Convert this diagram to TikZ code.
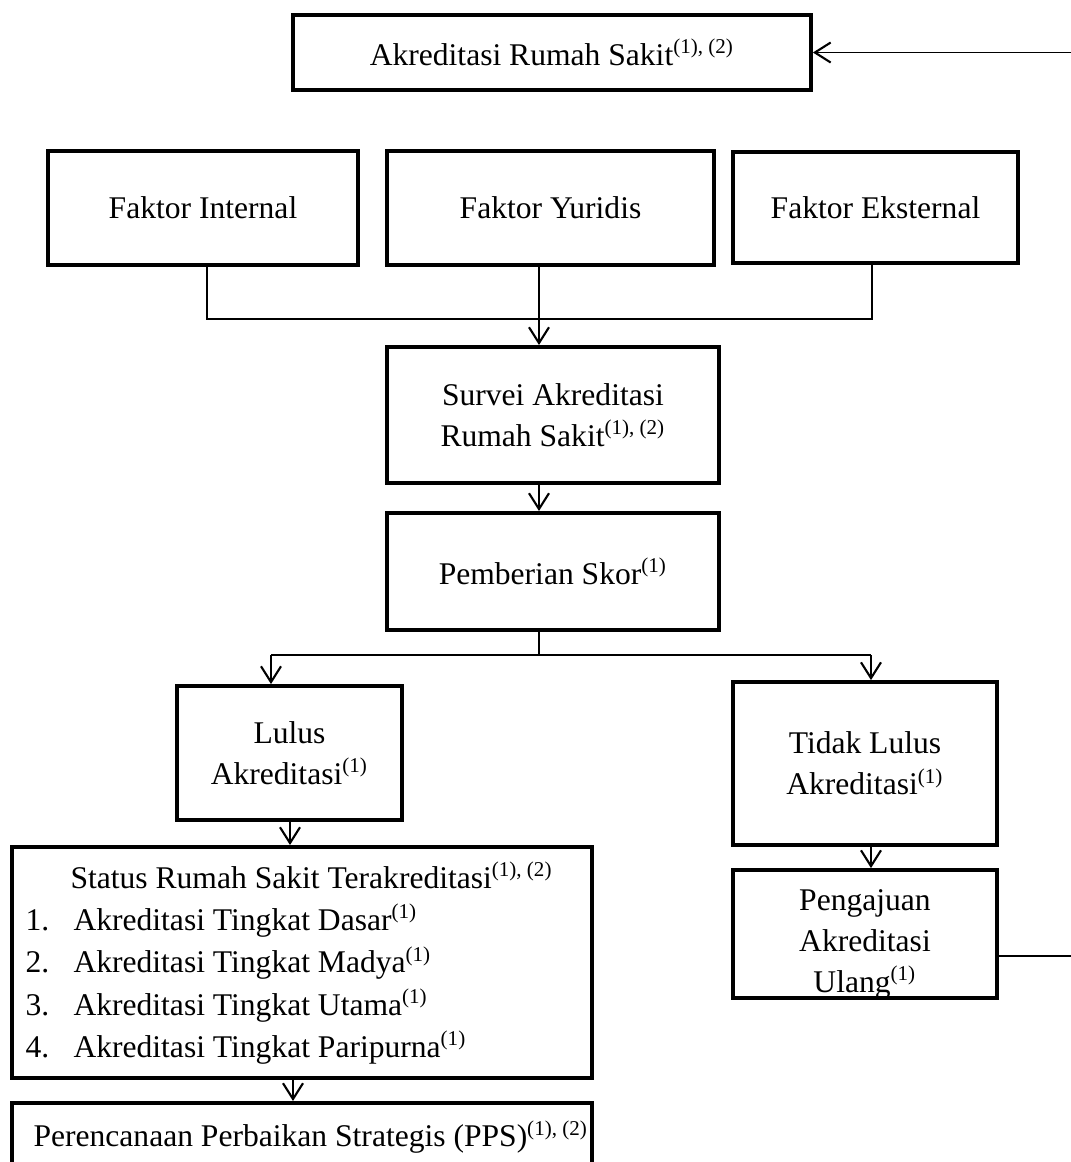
\documentclass[tikz,border=0pt]{standalone}
\usepackage{fontspec}
\setmainfont{Liberation Serif}
\usetikzlibrary{arrows.meta}
\begin{document}
\begin{tikzpicture}[x=0.38pt,y=-0.38pt,
  box/.style={draw,line width=1.5pt,rectangle,inner sep=0pt,align=center,font=\fontsize{12}{15.6}\selectfont},
  conn/.style={line width=0.5pt},
  arr/.style={conn,-{Straight Barb[length=6pt,width=7.6pt,line width=0.8pt]}},
  lbl/.style={inner sep=0pt,font=\fontsize{12}{15.6}\selectfont}]
\useasboundingbox (0,0) rectangle (1071,1162);
\clip (0,0) rectangle (1071,1162);

% boxes
\node[box,minimum width=196.8pt,minimum height=28.5pt] (top) at (552,52.5) {Akreditasi Rumah Sakit\textsuperscript{(1), (2)}};
\node[box,minimum width=117.8pt,minimum height=43.3pt] (int) at (203,208) {Faktor Internal};
\node[box,minimum width=124.3pt,minimum height=43.3pt] (yur) at (550.5,208) {Faktor Yuridis};
\node[box,minimum width=108.3pt,minimum height=42.2pt] (eks) at (875.5,207.5) {Faktor Eksternal};
\node[box,minimum width=126.2pt,minimum height=51.7pt] (surv) at (553,415) {Survei Akreditasi\\Rumah Sakit\textsuperscript{(1), (2)}};
\node[box,minimum width=126.2pt,minimum height=44.5pt] (pem) at (553,571.5) {Pemberian Skor\textsuperscript{(1)}};
\node[box,minimum width=85.5pt,minimum height=50.9pt] (lul) at (289.5,753) {Lulus\\Akreditasi\textsuperscript{(1)}};
\node[box,minimum width=100.3pt,minimum height=61.9pt] (tid) at (865,763.5) {Tidak Lulus\\Akreditasi\textsuperscript{(1)}};

\begin{scope}
  \clip (733,870) rectangle (997,996);
  \node[lbl,align=center] (pengt) at (865,944) {Pengajuan\\Akreditasi\\Ulang\textsuperscript{(1)}};
\end{scope}
\node[box,minimum width=100.3pt,minimum height=48.6pt] (peng) at (865,934) {};

\node[box,minimum width=220.4pt,minimum height=87.8pt] (stat) at (302,962.5) {};
\node[lbl,anchor=base west] (st0) at (70,888) {Status Rumah Sakit Terakreditasi\textsuperscript{(1), (2)}};
\node[lbl,anchor=base west] (n1) at (25,930) {1.};
\node[lbl,anchor=base west] (s1) at (73,930) {Akreditasi Tingkat Dasar\textsuperscript{(1)}};
\node[lbl,anchor=base west] (n2) at (25,972.5) {2.};
\node[lbl,anchor=base west] (s2) at (73,972.5) {Akreditasi Tingkat Madya\textsuperscript{(1)}};
\node[lbl,anchor=base west] (n3) at (25,1015) {3.};
\node[lbl,anchor=base west] (s3) at (73,1015) {Akreditasi Tingkat Utama\textsuperscript{(1)}};
\node[lbl,anchor=base west] (n4) at (25,1057) {4.};
\node[lbl,anchor=base west] (s4) at (73,1057) {Akreditasi Tingkat Paripurna\textsuperscript{(1)}};

\node[box,minimum width=220.4pt,minimum height=27.4pt] (pps) at (302,1139) {};
\node[lbl,anchor=west] (ppst) at (33,1137) {Perencanaan Perbaikan Strategis (PPS)\textsuperscript{(1), (2)}};

% helper coordinates
\coordinate (cx) at (539,0);
\coordinate (ix) at (207,0);
\coordinate (ex) at (872,0);
\coordinate (hy) at (0,319);
\coordinate (sy) at (0,655);
\coordinate (lx) at (271,0);
\coordinate (rx) at (871,0);
\coordinate (lx2) at (290,0);
\coordinate (px) at (293,0);
\coordinate (fby) at (0,956);
\coordinate (fbx) at (1090,0);

% connectors
\draw[conn] (int.south -| ix) -- (ix |- hy) -- (ex |- hy) -- (eks.south -| ex);
\draw[arr] (yur.south -| cx) -- (surv.north -| cx);
\draw[arr] (surv.south -| cx) -- (pem.north -| cx);
\draw[conn] (pem.south -| cx) -- (cx |- sy);
\draw[conn] (lx |- sy) -- (rx |- sy);
\draw[arr] (lx |- sy) -- (lul.north -| lx);
\draw[arr] (rx |- sy) -- (tid.north -| rx);
\draw[arr] (lul.south -| lx2) -- (stat.north -| lx2);
\draw[arr] (stat.south -| px) -- (pps.north -| px);
\draw[arr] (tid.south -| rx) -- (peng.north -| rx);
\draw[arr] (peng.east |- fby) -- (fbx |- fby) -- (fbx |- top.east) -- (top.east);
\end{tikzpicture}
\end{document}
